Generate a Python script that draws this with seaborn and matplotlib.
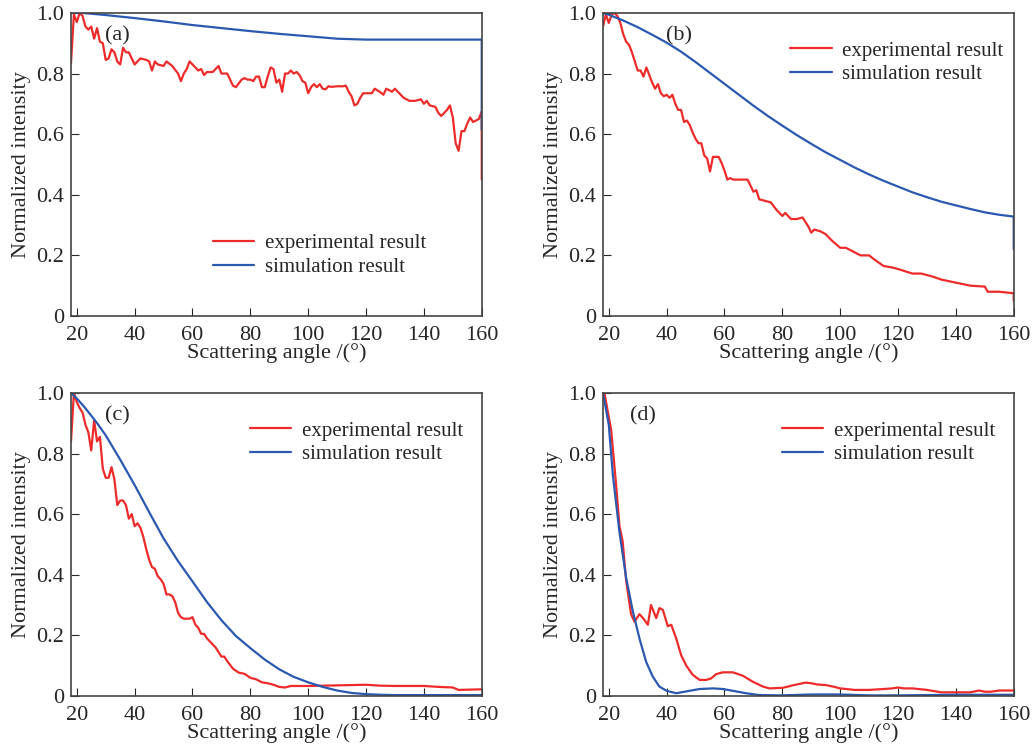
import matplotlib
matplotlib.use("Agg")
import matplotlib.pyplot as plt
import seaborn as sns
import pandas as pd

# ─── Data ────────────────────────────────────────────────────────────────

A_EXP_ANGLE = [18, 19, 20, 21, 22, 23, 24, 25, 26, 27, 28, 29, 30, 31, 32, 33, 34, 35, 36, 37,
               38, 39, 40, 42, 44, 45, 46, 47, 48, 50, 51, 53, 55, 56, 57, 58, 59, 60, 62, 63,
               64, 65, 67, 69, 70, 72, 74, 75, 77, 78, 79, 80, 81, 82, 83, 84, 85, 86, 87, 88,
               89, 90, 91, 92, 93, 94, 95, 96, 97, 98, 99, 100, 101, 102, 103, 104, 105, 106, 107, 108,
               110, 112, 113, 114, 115, 116, 117, 118, 119, 120, 122, 123, 125, 126, 127, 129, 130, 131, 133, 135,
               137, 139, 140, 141, 142, 144, 145, 146, 147, 148, 149, 150, 151, 152, 153, 154, 155, 156, 157, 158,
               159, 160, 160]
A_EXP_INT = [0.835, 0.995, 0.97, 1.0, 0.99, 0.955, 0.945, 0.955, 0.915, 0.95, 0.905, 0.9, 0.845, 0.85, 0.88, 0.87, 0.84, 0.83, 0.885, 0.87,
             0.87, 0.85, 0.83, 0.85, 0.845, 0.84, 0.81, 0.84, 0.83, 0.825, 0.84, 0.825, 0.8, 0.775, 0.8, 0.815, 0.84, 0.83, 0.81, 0.815,
             0.795, 0.805, 0.805, 0.825, 0.8, 0.8, 0.76, 0.755, 0.78, 0.785, 0.78, 0.78, 0.775, 0.79, 0.79, 0.755, 0.755, 0.79, 0.82, 0.815,
             0.77, 0.78, 0.74, 0.8, 0.8, 0.81, 0.8, 0.805, 0.795, 0.775, 0.77, 0.735, 0.755, 0.765, 0.755, 0.765, 0.75, 0.748, 0.758, 0.756,
             0.758, 0.758, 0.76, 0.74, 0.725, 0.695, 0.7, 0.72, 0.735, 0.735, 0.735, 0.75, 0.738, 0.73, 0.75, 0.74, 0.75, 0.74, 0.72, 0.71,
             0.71, 0.715, 0.7, 0.71, 0.695, 0.69, 0.67, 0.66, 0.67, 0.68, 0.695, 0.655, 0.57, 0.545, 0.61, 0.61, 0.635, 0.655, 0.64, 0.645,
             0.65, 0.675, 0.45]
A_SIM_ANGLE = [18, 22, 30, 40, 50, 60, 70, 80, 90, 100, 110, 120, 140, 160, 160]
A_SIM_INT = [1.0, 1.0, 0.993, 0.983, 0.972, 0.96, 0.95, 0.94, 0.931, 0.923, 0.915, 0.912, 0.912, 0.912, 0.615]

B_EXP_ANGLE = [18, 19, 20, 21, 22, 23, 24, 25, 26, 27, 28, 29, 30, 31, 32, 33, 34, 35, 36, 37,
               38, 39, 40, 41, 42, 43, 44, 45, 46, 47, 48, 49, 50, 51, 52, 53, 54, 55, 56, 57,
               58, 59, 60, 61, 62, 63, 68, 69, 70, 71, 72, 74, 76, 78, 80, 81, 83, 85, 87, 89,
               90, 91, 93, 95, 97, 100, 102, 105, 107, 110, 112, 115, 118, 120, 125, 128, 132, 135, 140, 145,
               150, 151, 155, 160, 160]
B_EXP_INT = [0.955, 0.995, 0.967, 0.995, 1.0, 0.99, 0.967, 0.93, 0.905, 0.895, 0.87, 0.84, 0.81, 0.81, 0.79, 0.82, 0.795, 0.77, 0.75, 0.765,
             0.735, 0.725, 0.73, 0.72, 0.73, 0.7, 0.68, 0.68, 0.64, 0.645, 0.63, 0.605, 0.585, 0.57, 0.57, 0.53, 0.52, 0.477, 0.525, 0.525,
             0.525, 0.505, 0.48, 0.45, 0.455, 0.45, 0.45, 0.43, 0.41, 0.415, 0.385, 0.38, 0.375, 0.35, 0.33, 0.34, 0.32, 0.32, 0.325, 0.295,
             0.275, 0.285, 0.28, 0.27, 0.25, 0.225, 0.225, 0.21, 0.2, 0.2, 0.185, 0.165, 0.16, 0.155, 0.14, 0.14, 0.13, 0.12, 0.11, 0.1,
             0.097, 0.08, 0.08, 0.075, 0.05]
B_SIM_ANGLE = [18, 20, 25, 30, 35, 40, 45, 50, 55, 60, 65, 70, 75, 80, 85, 90, 95, 100, 105, 110,
               115, 120, 125, 130, 135, 140, 145, 150, 155, 160, 160]
B_SIM_INT = [1.0, 0.994, 0.975, 0.953, 0.928, 0.902, 0.872, 0.838, 0.802, 0.766, 0.73, 0.694, 0.66, 0.628, 0.597, 0.568, 0.54, 0.515, 0.49, 0.467,
             0.446, 0.427, 0.408, 0.392, 0.377, 0.365, 0.353, 0.342, 0.334, 0.328, 0.22]

C_EXP_ANGLE = [18, 19, 20, 21, 22, 23, 24, 25, 26, 27, 28, 29, 30, 31, 32, 33, 34, 35, 36, 37,
               38, 39, 40, 41, 42, 43, 44, 45, 46, 47, 48, 49, 50, 51, 52, 53, 54, 55, 56, 57,
               59, 60, 61, 62, 63, 64, 65, 66, 68, 70, 71, 72, 74, 76, 78, 80, 82, 84, 86, 88,
               90, 92, 94, 100, 110, 120, 125, 130, 140, 145, 150, 152, 160]
C_EXP_INT = [0.84, 1.0, 0.97, 0.95, 0.935, 0.895, 0.87, 0.81, 0.91, 0.84, 0.855, 0.75, 0.72, 0.72, 0.755, 0.715, 0.63, 0.645, 0.645, 0.63,
             0.585, 0.6, 0.56, 0.57, 0.555, 0.525, 0.485, 0.45, 0.425, 0.42, 0.395, 0.385, 0.37, 0.335, 0.335, 0.33, 0.31, 0.275, 0.26, 0.255,
             0.255, 0.26, 0.235, 0.225, 0.205, 0.205, 0.19, 0.18, 0.16, 0.13, 0.13, 0.115, 0.09, 0.077, 0.073, 0.06, 0.055, 0.045, 0.042, 0.037,
             0.03, 0.028, 0.033, 0.033, 0.035, 0.037, 0.034, 0.033, 0.033, 0.03, 0.028, 0.02, 0.022]
C_SIM_ANGLE = [18, 20, 22.5, 25, 27.5, 30, 35, 40, 45, 50, 55, 60, 65, 70, 75, 80, 85, 90, 95, 100,
               105, 110, 115, 120, 125, 130, 140, 160]
C_SIM_INT = [1.0, 0.982, 0.955, 0.925, 0.894, 0.86, 0.78, 0.696, 0.607, 0.52, 0.445, 0.378, 0.31, 0.25, 0.198, 0.158, 0.12, 0.088, 0.063, 0.045,
             0.03, 0.018, 0.01, 0.006, 0.004, 0.003, 0.003, 0.003]

D_EXP_ANGLE = [18.5, 20, 20.8, 22.5, 23.7, 24.8, 26, 27.7, 28.9, 30.6, 32, 33.5, 34.6, 36.4, 37.5, 38.7, 40.4, 41.6, 43.3, 45,
               46.8, 49, 51.4, 53.7, 55.4, 57.1, 59.4, 62.9, 66.3, 69.8, 73.3, 75.6, 80.2, 84, 86, 88, 90, 92, 95, 98,
               100, 105, 110, 115, 118, 120, 122, 125, 130, 135, 140, 145, 148, 150, 152, 155, 160]
D_EXP_INT = [1.0, 0.92, 0.88, 0.7, 0.56, 0.51, 0.38, 0.27, 0.245, 0.27, 0.255, 0.235, 0.3, 0.257, 0.29, 0.284, 0.23, 0.235, 0.19, 0.135,
             0.1, 0.07, 0.053, 0.053, 0.058, 0.072, 0.078, 0.078, 0.067, 0.047, 0.031, 0.025, 0.027, 0.036, 0.04, 0.044, 0.042, 0.038, 0.036, 0.03,
             0.025, 0.02, 0.02, 0.023, 0.025, 0.028, 0.025, 0.025, 0.02, 0.012, 0.012, 0.012, 0.018, 0.014, 0.014, 0.018, 0.018]
D_SIM_ANGLE = [18, 20, 21.4, 23.7, 26, 28.3, 30.6, 32.9, 35.2, 37.5, 40, 43.3, 47.9, 51.4, 56, 59.4, 62.9, 67.5, 72, 80,
               90, 100, 110, 120, 140, 160]
D_SIM_INT = [1.0, 0.895, 0.73, 0.54, 0.39, 0.28, 0.19, 0.113, 0.064, 0.031, 0.017, 0.009, 0.017, 0.023, 0.025, 0.023, 0.017, 0.009, 0.003, 0.002,
             0.005, 0.005, 0.002, 0.002, 0.004, 0.004]

PANELS = [
    ('(a)', A_EXP_ANGLE, A_EXP_INT, A_SIM_ANGLE, A_SIM_INT),
    ('(b)', B_EXP_ANGLE, B_EXP_INT, B_SIM_ANGLE, B_SIM_INT),
    ('(c)', C_EXP_ANGLE, C_EXP_INT, C_SIM_ANGLE, C_SIM_INT),
    ('(d)', D_EXP_ANGLE, D_EXP_INT, D_SIM_ANGLE, D_SIM_INT),
]

Y_TICKS = [0, 0.2, 0.4, 0.6, 0.8, 1.0]
Y_TICK_LABELS = ['0', '0.2', '0.4', '0.6', '0.8', '1.0']
X_TICKS = [20, 40, 60, 80, 100, 120, 140, 160]

RED = '#ee2b2b'
BLUE = '#2b59b0'

# ─── Style ───────────────────────────────────────────────────────────────

sns.set_style('ticks')
plt.rcParams.update({
    'font.family': ['Liberation Serif', 'DejaVu Serif'],
    'font.size': 16,
    'xtick.labelsize': 16,
    'ytick.labelsize': 16,
    'axes.labelsize': 16,
    'xtick.direction': 'in',
    'ytick.direction': 'in',
    'xtick.major.size': 6,
    'ytick.major.size': 6,
    'xtick.major.pad': 7,
    'ytick.major.pad': 5,
    'axes.edgecolor': '#444444',
    'axes.linewidth': 1.2,
})

# axes rectangles in figure fractions: (left, bottom, width, height)
RECTS = [
    (0.0688, 0.5798, 0.398, 0.403),
    (0.5843, 0.5798, 0.398, 0.403),
    (0.0688, 0.0745, 0.398, 0.403),
    (0.5843, 0.0745, 0.398, 0.403),
]
LEGEND_ANCHOR = [(0.345, 0.20), (0.455, 0.836), (0.435, 0.836), (0.435, 0.836)]
LABEL_POS = [(0.112, 0.925), (0.185, 0.925), (0.112, 0.925), (0.097, 0.925)]

fig = plt.figure(figsize=(10.32, 7.52), dpi=100)

for i, (tag, ex, ey, sx, sy) in enumerate(PANELS):
    ax = fig.add_axes(RECTS[i])
    exp_df = pd.DataFrame({'angle': ex, 'intensity': ey})
    sim_df = pd.DataFrame({'angle': sx, 'intensity': sy})
    sns.lineplot(data=exp_df, x='angle', y='intensity', ax=ax, color=RED, lw=1.6,
                 estimator=None, sort=False, label='experimental result')
    sns.lineplot(data=sim_df, x='angle', y='intensity', ax=ax, color=BLUE, lw=1.6,
                 estimator=None, sort=False, label='simulation result')
    ax.set_xlim(18, 160)
    ax.set_ylim(0, 1.0)
    ax.set_xticks(X_TICKS)
    ax.set_yticks(Y_TICKS)
    ax.set_yticklabels(Y_TICK_LABELS)
    ax.set_xlabel('Scattering angle /(°)', labelpad=-1)
    ax.set_ylabel('Normalized intensity', labelpad=4)
    ax.text(*LABEL_POS[i], tag, transform=ax.transAxes, ha='center', va='center', fontsize=16)
    ax.legend(loc='center left', bbox_to_anchor=LEGEND_ANCHOR[i], frameon=False,
              handlelength=2.0, handletextpad=0.5, labelspacing=0.2, borderpad=0,
              borderaxespad=0, fontsize=15)

fig.savefig('out.png', dpi=100)
plt.close()
